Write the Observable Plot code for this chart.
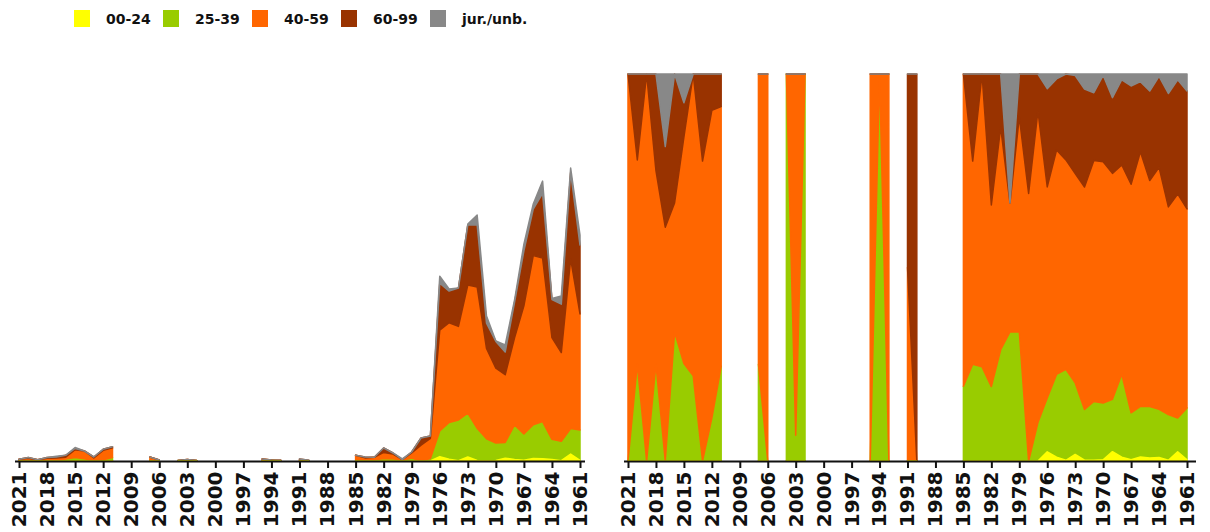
<!DOCTYPE html>
<html>
<head>
<meta charset="utf-8">
<script src="https://cdn.jsdelivr.net/npm/d3@7"></script>
<script src="https://cdn.jsdelivr.net/npm/@observablehq/plot@0.6"></script>
<style>
  html, body { margin: 0; padding: 0; background: #fff; overflow: hidden; }
  body { width: 1210px; height: 532px; font-family: "DejaVu Sans", sans-serif; }
  #legend { position: relative; height: 40px; }
  .item { position: absolute; top: 10px; height: 18px; }
  .sw { position: absolute; left: 0; top: 0; width: 16px; height: 17px; }
  .lb { position: absolute; left: 32px; top: 0px; font-size: 14px; font-weight: bold; line-height: 18px; white-space: nowrap; color: #111; }
  #charts { display: flex; }
</style>
</head>
<body>
<div id="legend"></div>
<div id="charts"></div>
<script>
// Years shown (2021 down to 1961); null = no data for that year
const years = d3.range(2021, 1960, -1);
const tickYears = [2021, 2018, 2015, 2012, 2009, 2006, 2003, 2000, 1997, 1994, 1991, 1988, 1985, 1982, 1979, 1976, 1973, 1970, 1967, 1964, 1961];

const seriesNames = ["00-24", "25-39", "40-59", "60-99", "jur./unb."];
const seriesColors = ["#ffff00", "#99cc00", "#ff6600", "#993300", "#888888"];

//            2021 2020 2019 2018 2017 2016 2015 2014 2013 2012 2011 2010 2009 2008 2007 2006 2005 2004 2003 2002 2001 2000 1999 1998 1997 1996 1995 1994 1993 1992 1991 1990 1989 1988 1987 1986
const age00_24 = [0, 0, 0, 0, 0, 0, 0, 0, 0, 0, 0, null, null, null, 0, 0, null, 0, 0, 0, null, null, null, null, null, null, 0, 0, 0, null, 0, 0, null, null, null, null,
  // 1985 .. 1961
  0, 0, 0, 0, 0, 0, 0, 0, 0, 4.4, 1.7, 0.3, 4.0, 0.5, 0.3, 0.4, 2.8, 1.6, 0.7, 2.6, 2.2, 1.5, 0.3, 7.0, 0.7];
const age25_39 = [0, 0.9, 0, 0.9, 0, 1.9, 3.4, 2.2, 0, 1.3, 3.5, null, null, null, 1.0, 0, null, 0.5, 0.1, 0.6, null, null, null, null, null, null, 0, 1.0, 0, null, 0, 0, null, null, null, null,
  1.1, 1.0, 0.9, 2.5, 2.3, 0.7, 3.0, 0, 2.5, 25.7, 36.8, 40.7, 43.8, 32.2, 22.0, 17.6, 15.7, 34.5, 26.3, 33.7, 37.2, 20.2, 19.5, 25.5, 30.3];
const age40_59 = [1.7, 1.9, 1.3, 1.8, 2.9, 1.9, 7.9, 7.8, 3.1, 9.3, 9.6, null, null, null, 3.0, 1.0, null, 0, 1.4, 0, null, null, null, null, null, null, 2.0, 0, 0.7, null, 1.0, 0, null, null, null, null,
  4.6, 2.1, 2.8, 6.1, 4.6, 0.7, 5.0, 15.9, 20.2, 100.8, 99.8, 93.6, 128.2, 141.4, 90.2, 74.8, 67.8, 87.1, 128.1, 169.1, 163.5, 101.6, 88.6, 169.6, 116.1];
const age60_99 = [0, 0.8, 0, 0.9, 1.0, 1.9, 1.2, 0, 0.9, 1.1, 1.2, null, null, null, 0, 0, null, 0, 0, 0, null, null, null, null, null, null, 0, 0, 0, null, 1.0, 0.7, null, null, null, null,
  0, 0.9, 0, 4.4, 1.1, 0, 1.0, 7.1, 2.4, 46.9, 31.6, 38.4, 60.0, 62.2, 25.4, 26.8, 22.7, 35.4, 55.1, 46.5, 64.7, 38.2, 48.4, 86.4, 68.8];
const jurUnb = [0, 0, 0, 0, 0.9, 0, 1.0, 0, 0, 0, 0, null, null, null, 0, 0, null, 0, 0, 0, null, null, null, null, null, null, 0, 0, 0, null, 0, 0, null, null, null, null,
  0, 0, 0, 0, 0, 0.7, 0, 0, 0, 7.0, 2.2, 0, 0.9, 9.6, 7.0, 0.4, 7.1, 2.4, 6.7, 5.1, 12.3, 1.0, 8.3, 4.4, 9.9];

const seriesValues = [age00_24, age25_39, age40_59, age60_99, jurUnb];

// legend
const legend = document.getElementById("legend");
seriesNames.forEach((name, i) => {
  const it = document.createElement("div");
  it.className = "item";
  it.style.left = (74 + i * 89) + "px";
  it.innerHTML = `<div class="sw" style="background:${seriesColors[i]}"></div><div class="lb">${name}</div>`;
  legend.appendChild(it);
});

// build stacked rows
function buildRows(normalize) {
  const rows = seriesNames.map(() => []);
  years.forEach((yr, i) => {
    const vals = seriesValues.map(s => s[i]);
    const missing = vals.some(v => v == null);
    const total = missing ? NaN : d3.sum(vals);
    let acc = 0;
    vals.forEach((v, k) => {
      if (missing) {
        rows[k].push({year: yr, y1: NaN, y2: NaN});
      } else {
        const f = normalize ? v / total : v;
        rows[k].push({year: yr, y1: acc, y2: acc + f});
        acc += f;
      }
    });
  });
  return rows;
}

const drawOrder = [1, 2, 3, 4, 0];

function makeChart(normalize, opts) {
  const rows = buildRows(normalize);
  const marks = drawOrder.map(k => Plot.areaY(rows[k], {
    x: "year", y1: "y1", y2: "y2",
    fill: seriesColors[k], stroke: seriesColors[k], strokeWidth: 1.5
  }));
  marks.push(Plot.ruleY([0], {strokeWidth: 2, stroke: "#111"}));
  marks.push(Plot.axisX({
    ticks: tickYears, tickFormat: d => String(d), tickRotate: -90,
    tickSize: 7, strokeWidth: 2, tickPadding: 3, label: null,
    fontSize: 20, fontWeight: "bold", fill: "#111", stroke: "#111"
  }));
  return Plot.plot({
    width: 605, height: 492,
    marginTop: 34, marginBottom: 71,
    marginLeft: opts.ml, marginRight: opts.mr,
    style: {fontFamily: "DejaVu Sans", overflow: "visible", background: "#fff"},
    x: {domain: [2021, 1961], insetLeft: opts.il, insetRight: opts.ir, label: null},
    y: {domain: normalize ? [0, 1] : [0, 387], axis: null},
    marks
  });
}

const charts = document.getElementById("charts");
charts.appendChild(makeChart(false, {ml: 15, mr: 20, il: 4, ir: 5}));
charts.appendChild(makeChart(true, {ml: 19, mr: 14, il: 4, ir: 9}));
</script>
</body>
</html>
